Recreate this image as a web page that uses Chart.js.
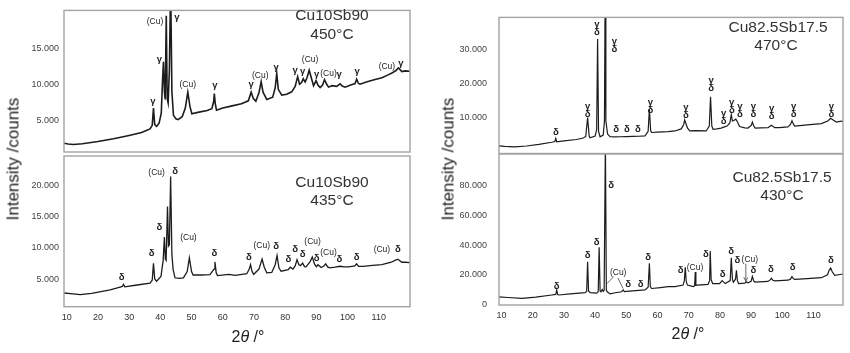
<!DOCTYPE html>
<html><head><meta charset="utf-8">
<script src="https://cdn.jsdelivr.net/npm/chart.js@4.4.0/dist/chart.umd.min.js"></script>
<style>
html,body{margin:0;padding:0;background:#fff;}
#wrap{position:relative;width:850px;height:353px;overflow:hidden;font-family:'Liberation Sans',Arial,sans-serif;}
canvas{position:absolute;left:0;top:0;}
.t{position:absolute;color:#333;font-size:15.5px;white-space:nowrap;transform:translate(-50%,-50%);line-height:1;}
.ytitle{position:absolute;font-size:17px;color:#222;white-space:nowrap;line-height:17px;transform:translate(-50%,-50%) rotate(-90deg);}
.xtitle{position:absolute;font-size:16px;color:#222;white-space:nowrap;line-height:1;transform:translate(-50%,-50%);}
</style></head>
<body>
<div id="wrap">
<canvas id="c1" width="850" height="353"></canvas>
<canvas id="c2" width="850" height="353"></canvas>
<canvas id="c3" width="850" height="353"></canvas>
<canvas id="c4" width="850" height="353"></canvas>
<div class="t" style="left:332px;top:15px;">Cu10Sb90</div>
<div class="t" style="left:332px;top:33.5px;">450°C</div>
<div class="t" style="left:332px;top:182px;">Cu10Sb90</div>
<div class="t" style="left:332px;top:200px;">435°C</div>
<div class="t" style="left:778px;top:27px;">Cu82.5Sb17.5</div>
<div class="t" style="left:776px;top:45px;">470°C</div>
<div class="t" style="left:782px;top:177px;">Cu82.5Sb17.5</div>
<div class="t" style="left:782px;top:195px;">430°C</div>
<div class="ytitle" style="left:13px;top:159px;">Intensity /counts</div>
<div class="ytitle" style="left:448px;top:159px;">Intensity /counts</div>
<div class="xtitle" style="left:248px;top:336.5px;">2<i>θ</i> /°</div>
<div class="xtitle" style="left:688px;top:333.5px;">2<i>θ</i> /°</div>
</div>
<script>
// ---- tick labels ----
const xTicks = [10,20,30,40,50,60,70,80,90,100,110];
const yTicks450 = [5000,10000,15000];
const yTicks435 = [5000,10000,15000,20000];
const yTicks470 = [10000,20000,30000];
const yTicks430 = [0,20000,40000,60000,80000];

// ---- series: [2theta, counts] ----
const cu10_450 = [[9.1,1820],[10.5,1720],[12.1,1650],[15,1750],[20,2050],[25,2450],[30,2900],[34,3300],[36.7,3800],[37.4,4300],[37.8,6700],[38.2,4400],[38.8,4150],[39.6,4600],[40.3,6000],[40.7,10500],[41.0,13100],[41.3,9000],[41.55,7900],[41.9,19500],[42.2,8000],[42.5,7400],[42.9,12000],[43.3,24000],[43.7,9000],[44.2,5700],[45.0,5200],[45.7,5100],[47.0,5500],[48.0,6700],[48.8,8900],[49.5,6900],[50.1,5900],[52.0,6100],[55,6350],[56.5,6600],[57.1,7600],[57.3,8700],[57.6,7300],[58.0,6400],[60,6700],[63,7000],[66,7300],[68.2,7700],[69.1,8900],[69.8,8000],[70.6,7650],[71.6,8800],[72.3,10350],[72.9,8900],[74.1,7900],[76.0,8200],[76.8,9500],[77.3,11500],[77.8,9300],[78.9,8500],[80.5,8600],[82.1,8950],[83.2,9700],[84.0,11050],[84.6,10000],[85.2,10200],[85.8,10750],[86.4,10300],[87.0,10900],[87.7,11950],[88.5,10700],[89.1,9800],[89.9,10500],[90.5,9900],[91.2,9550],[92.0,9900],[92.6,10650],[93.3,10000],[93.9,9600],[95,9800],[96.5,9700],[97.6,10050],[98.3,9750],[99.2,9600],[101,9900],[102.4,10100],[102.9,10700],[103.5,10100],[104,10000],[106,10300],[108.8,10650],[111,10900],[113,11300],[114.2,11550],[115.5,11900],[116.3,12250],[117.4,11750],[118.5,11850],[119.9,11800]];

const cu10_435 = [[9.1,2750],[12,2600],[14.3,2480],[18,2700],[23.9,3250],[27.1,3700],[27.8,3800],[28.2,4150],[28.6,3750],[32,4000],[36.7,4350],[37.4,4800],[37.8,7550],[38.2,5000],[38.8,4650],[40.2,5400],[40.9,8000],[41.3,11750],[41.6,8200],[41.85,8000],[42.3,16650],[42.6,10300],[42.9,10500],[43.3,21500],[43.7,9000],[44.1,6500],[44.7,5200],[46,5100],[47.4,5200],[48.6,6200],[49.3,8400],[50.0,6200],[50.5,5650],[53,5650],[55.9,5700],[57.2,6600],[57.5,7750],[57.9,6000],[58.3,5550],[62,5750],[64,5600],[67.7,5850],[68.5,6600],[68.9,7300],[69.4,6200],[69.9,5750],[71.6,6600],[72.6,8200],[73.3,6900],[74.1,6000],[75.7,6050],[76.8,7300],[77.4,8750],[78.0,6800],[78.7,6250],[81.0,6500],[81.6,6900],[82.5,6600],[83.2,7100],[83.8,8100],[84.4,7300],[84.9,7150],[85.6,7550],[86.2,7000],[86.7,6950],[88.0,7800],[88.7,8550],[89.4,7400],[90.0,7000],[90.5,7300],[91.5,6850],[92.4,7100],[93.0,7450],[93.6,6950],[94.3,6800],[96,6900],[97.6,7050],[99,6950],[100.3,6950],[102.3,7100],[102.9,7450],[103.5,7050],[105,7050],[108,7200],[111,7300],[114,7700],[115.2,8000],[116.1,8200],[117.4,7700],[118.5,7700],[119.9,7650]];

const cu825_470 = [[9.0,1730],[11,1600],[14.3,1470],[18,1700],[22,2150],[26.1,2800],[27.1,3000],[27.4,3900],[27.7,2950],[30,3200],[34,3600],[36.2,4050],[37.0,4500],[37.6,10000],[38.1,4600],[38.4,4100],[40.0,4600],[40.5,6500],[40.8,33000],[41.1,6000],[41.6,4400],[42.6,4900],[43.0,9000],[43.2,45000],[43.45,9000],[44.0,5200],[44.8,4400],[46.4,4350],[48,4400],[50,4450],[52,4500],[54,4550],[56.0,4650],[57.0,6000],[57.4,12600],[57.8,6200],[58.1,5650],[60,5750],[63.4,5900],[65.6,6100],[67.6,6700],[68.4,8000],[68.7,9300],[69.1,8300],[69.6,7000],[70.3,6150],[72,6200],[75.6,6100],[76.6,7500],[77.0,16100],[77.4,7600],[77.8,6550],[79,6700],[80.4,6950],[81.5,7300],[82.4,7600],[83.2,8500],[83.65,10900],[84.0,9000],[84.3,9100],[85.1,9550],[85.6,8800],[86.3,7400],[88,7000],[89.0,6950],[90.1,7800],[90.4,8700],[90.8,7700],[91.3,6950],[93,7000],[95.4,7050],[96.5,7800],[97.6,7050],[99,7100],[101.8,7300],[102.6,8000],[103.1,9100],[103.6,8000],[104.0,7550],[108,7900],[112.5,8250],[114.6,9000],[115.5,9800],[116.3,9300],[117.3,8700],[118.5,8900],[119.5,8950]];

const cu825_430 = [[9.0,5100],[12,4600],[16.5,4050],[21,4800],[26.1,6300],[27.4,6700],[27.7,9700],[28.0,6600],[28.4,6300],[32,7000],[36.8,7850],[37.3,8800],[37.6,28800],[37.9,9000],[38.4,7850],[40.5,7500],[41.0,8500],[41.3,38500],[41.6,9000],[41.9,8500],[42.3,10000],[42.6,8700],[42.9,9500],[43.3,110000],[43.6,9500],[43.9,8500],[44.8,7000],[46.5,7800],[48.5,8500],[49.0,9700],[49.4,8600],[50.1,8700],[53,9200],[56.0,9700],[57.0,11500],[57.4,27700],[57.7,12000],[58.1,10700],[61,11300],[63.4,11900],[65.6,12000],[68.2,13000],[68.6,16000],[68.9,25000],[69.2,15500],[69.6,13000],[71.4,11900],[71.9,12500],[72.1,21800],[72.3,12800],[72.8,13000],[76.2,13500],[76.7,16000],[76.9,36000],[77.2,16500],[77.7,14000],[79.9,14000],[80.7,16000],[81.7,14000],[83.3,16000],[83.65,31500],[84.0,17000],[84.3,15000],[85.0,17000],[85.3,23000],[85.6,16000],[86.0,14000],[88.0,14300],[88.4,15200],[89.0,14500],[90.0,15500],[90.4,18800],[90.9,15500],[91.3,15000],[95.4,15500],[96.1,16500],[96.5,17600],[97.0,16200],[97.6,15800],[101.8,16300],[102.6,17000],[103.1,18700],[103.6,17200],[104.0,16800],[108,17300],[112.5,18000],[114.5,20000],[115.0,23000],[115.5,24500],[116.0,22000],[116.8,19500],[118,20000],[119.5,20500]];

// ---- peak labels: [2theta, counts, text] ----
const marks450 = [[37.6,7610,'γ'],[39.7,13480,'γ'],[38.3,18700,'(Cu)'],[45.3,19220,'γ'],[48.8,10000,'(Cu)'],[57.5,9780,'γ'],[69.1,10000,'γ'],[72.0,11210,'(Cu)'],[77.1,12390,'γ'],[83.2,11955,'γ'],[85.6,11735,'γ'],[88.0,13350,'(Cu)'],[90.1,11300,'γ'],[93.9,11525,'(Cu)'],[97.3,11300,'γ'],[103.1,11825,'γ'],[112.6,12480,'(Cu)'],[117.1,12910,'γ']];
const marks435 = [[27.6,5260,'δ'],[37.2,9180,'δ'],[39.7,13360,'δ'],[38.8,22140,'(Cu)'],[44.7,22300,'δ'],[49.0,11590,'(Cu)'],[57.3,9070,'δ'],[68.4,8540,'δ'],[72.5,10400,'(Cu)'],[77.1,10240,'δ'],[81.0,8100,'δ'],[83.2,9710,'δ'],[85.6,8900,'δ'],[88.8,11000,'(Cu)'],[90.1,8380,'δ'],[93.9,9180,'(Cu)'],[97.4,8215,'δ'],[102.9,8540,'δ'],[111.0,9710,'(Cu)'],[116.1,9710,'δ']];
const marks470 = [[27.4,5820,'δ'],[37.6,12170,'γ\nδ'],[40.6,36100,'γ\nδ'],[46.2,31300,'γ\nδ'],[46.7,6500,'δ'],[50.2,6500,'δ'],[53.7,6500,'δ'],[57.7,13470,'γ\nδ'],[69.1,11900,'γ\nδ'],[77.2,19730,'γ\nδ'],[81.2,10000,'γ\nδ'],[83.8,13470,'γ\nδ'],[86.4,12170,'γ\nδ'],[90.7,12170,'γ\nδ'],[96.6,11570,'γ\nδ'],[103.6,12170,'γ\nδ'],[115.7,12170,'γ\nδ']];
const marks430 = [[27.7,12370,'δ'],[37.6,33300,'δ'],[40.5,41650,'δ'],[45.1,80650,'δ'],[47.4,21400,'(Cu)'],[50.6,13720,'δ'],[54.6,13720,'δ'],[57.0,31770,'δ'],[67.4,22720,'δ'],[72.0,25000,'(Cu)'],[75.5,34000,'δ'],[80.9,20280,'δ'],[83.6,35560,'δ'],[85.6,29950,'δ'],[89.6,30400,'(Cu)'],[90.7,22720,'δ'],[96.3,23660,'δ'],[103.3,25000,'δ'],[115.6,29950,'δ']];
// leader lines: [2theta1, counts1, 2theta2, counts2, arrow]
const leaders430 = [[45.9,18600,43.8,14000,0],[47.3,17800,49.0,10600,0],[88.3,27500,88.3,15600,1]];

function fmt(v){ return v===0 ? '0' : String(v).replace(/\B(?=(\d{3})+(?!\d))/g,'.'); }
const FAM = "'Liberation Sans', Arial, sans-serif";

const framePlugin = { id:'frame', afterDraw(chart){
  const a=chart.chartArea, c=chart.ctx; c.save();
  c.strokeStyle='#a3a3a3'; c.lineWidth=1.4;
  c.strokeRect(a.left,a.top,a.right-a.left,a.bottom-a.top); c.restore(); } };

const markPlugin = { id:'marks', afterDatasetsDraw(chart, args, o){
  const xs=chart.scales.x, ys=chart.scales.y, c=chart.ctx; c.save();
  c.fillStyle='#222'; c.textAlign='center'; c.textBaseline='middle';
  for (const [a,v,t] of (o.items||[])) {
    const px=xs.getPixelForValue(a), py=ys.getPixelForValue(v);
    if (t.startsWith('(')) { c.font='8.5px '+FAM; c.fillText(t,px,py); }
    else { c.font='bold 9.5px '+FAM; const p=t.split('\n');
      if (p.length===2){ c.fillText(p[0],px,py-3.8); c.fillText(p[1],px,py+4.2); } else c.fillText(t,px,py); }
  }
  c.strokeStyle='#444'; c.lineWidth=0.8;
  for (const [a1,v1,a2,v2,arr] of (o.leaders||[])) {
    const x1=xs.getPixelForValue(a1), y1=ys.getPixelForValue(v1), x2=xs.getPixelForValue(a2), y2=ys.getPixelForValue(v2);
    c.beginPath(); c.moveTo(x1,y1); c.lineTo(x2,y2); c.stroke();
    if (arr){ c.beginPath(); c.moveTo(x2-2,y2-4); c.lineTo(x2,y2); c.lineTo(x2+2,y2-4); c.stroke(); }
  }
  c.restore(); } };

function panel(id, pts, cfg){
  const yw=50;
  new Chart(document.getElementById(id), {
    type:'scatter',
    data:{datasets:[{data:pts.map(([x,y])=>({x,y})), showLine:true, borderColor:'#1c1c1c', borderWidth:cfg.bw, pointRadius:0, tension:0, fill:false}]},
    options:{
      responsive:false, animation:false, devicePixelRatio:1,
      layout:{padding:{left:cfg.L-yw, top:cfg.T, right:850-cfg.R, bottom:353-cfg.B-cfg.xh}},
      plugins:{legend:{display:false}, tooltip:{enabled:false}, marks:{items:cfg.marks, leaders:cfg.leaders||[]}},
      scales:{
        x:{type:'linear', min:cfg.xmin, max:cfg.xmax,
           afterFit(s){ s.height=cfg.xh; },
           afterBuildTicks(s){ s.ticks=xTicks.map(v=>({value:v})); },
           grid:{display:false, drawTicks:false}, border:{display:false},
           ticks:{display:cfg.xh>0, padding:5, font:{size:9,family:FAM}, color:'#333', maxRotation:0, autoSkip:false}},
        y:{type:'linear', min:cfg.ymin, max:cfg.ymax,
           afterFit(s){ s.width=yw; },
           afterBuildTicks(s){ s.ticks=cfg.yt.map(v=>({value:v})); },
           grid:{display:false, drawTicks:false}, border:{display:false},
           ticks:{padding:cfg.yp, font:{size:9,family:FAM}, color:'#444', callback:v=>fmt(v)}}
      }
    },
    plugins:[framePlugin, markPlugin]
  });
}

panel('c1', cu10_450, {L:64,T:1.5,R:410,B:152,xh:0,xmin:9.13,xmax:120.0,ymin:602,ymax:20242,yt:yTicks450,yp:5,bw:1.6,marks:marks450});
panel('c2', cu10_435, {L:64,T:156,R:410,B:306.7,xh:20,xmin:9.13,xmax:120.0,ymin:545,ymax:24800,yt:yTicks435,yp:5,bw:1.3,marks:marks435});
panel('c3', cu825_470, {L:499,T:1,R:843,B:153.5,xh:0,xmin:9.2,xmax:119.45,ymin:-492,ymax:39310,yt:yTicks470,yp:12,bw:1.2,marks:marks470});
panel('c4', cu825_430, {L:499,T:154,R:843,B:305,xh:20,xmin:9.2,xmax:119.45,ymin:-470,ymax:101600,yt:yTicks430,yp:12,bw:1.2,marks:marks430,leaders:leaders430});
</script>
</body></html>
